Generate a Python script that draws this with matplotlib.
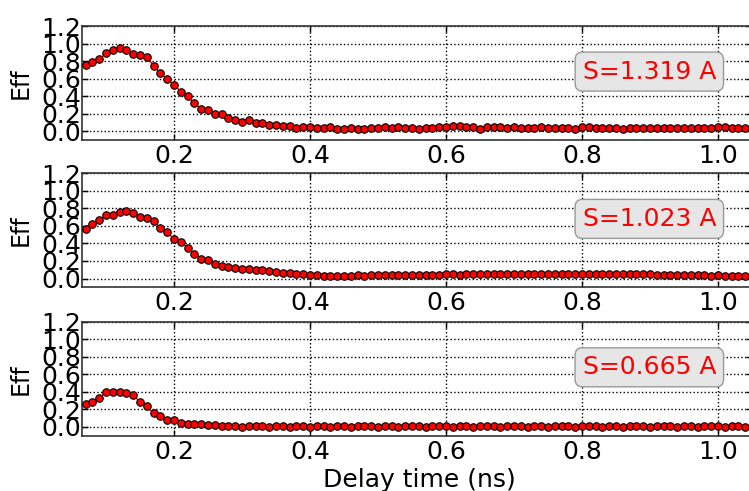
import numpy as np
import matplotlib
matplotlib.use("Agg")
import matplotlib.pyplot as plt

# Delay times (ns), sampled every 10 ps
delay = np.round(np.arange(0.07, 1.045, 0.01), 2)

eff_s1319 = [
    0.752, 0.789, 0.820, 0.888, 0.925, 0.948, 0.921, 0.876, 0.872, 0.846,
    0.748, 0.661, 0.597, 0.529, 0.453, 0.397, 0.317, 0.257, 0.246, 0.193,
    0.197, 0.151, 0.131, 0.106, 0.132,
    0.095, 0.095, 0.076, 0.068, 0.064, 0.064, 0.038, 0.049, 0.049, 0.038,
    0.041, 0.049, 0.030, 0.023, 0.038, 0.030, 0.030, 0.041, 0.041, 0.053,
    0.038, 0.045, 0.041, 0.038, 0.027, 0.038, 0.041, 0.049, 0.045, 0.057,
    0.057, 0.049, 0.049, 0.030,
    0.045, 0.050, 0.045, 0.040, 0.045, 0.040, 0.035, 0.040, 0.045, 0.040,
    0.040, 0.035, 0.040, 0.030, 0.045, 0.050, 0.040, 0.040, 0.040, 0.040,
    0.030, 0.040, 0.040, 0.040, 0.035, 0.040, 0.040, 0.040, 0.035, 0.040,
    0.040, 0.040, 0.035, 0.040, 0.045, 0.045, 0.040, 0.040, 0.040,
]

eff_s1023 = [
    0.568, 0.617, 0.667, 0.720, 0.720, 0.754, 0.769, 0.746, 0.705, 0.689,
    0.659, 0.572, 0.527, 0.451, 0.417, 0.352, 0.284, 0.227, 0.212, 0.170,
    0.140, 0.133, 0.125, 0.114, 0.114,
    0.100, 0.092, 0.083, 0.074, 0.068, 0.062, 0.055, 0.048, 0.042, 0.038,
    0.034, 0.032, 0.030, 0.033, 0.031, 0.035, 0.034, 0.036, 0.038, 0.035,
    0.040, 0.038, 0.041, 0.040, 0.043, 0.041, 0.045, 0.044, 0.046, 0.047,
    0.045, 0.048, 0.046, 0.049,
    0.048, 0.050, 0.047, 0.051, 0.049, 0.052, 0.050, 0.048, 0.051, 0.053,
    0.050, 0.052, 0.049, 0.051, 0.053, 0.050, 0.052, 0.049, 0.050, 0.048,
    0.050, 0.047, 0.048, 0.046, 0.047, 0.044, 0.045, 0.043, 0.040, 0.041,
    0.038, 0.036, 0.037, 0.034, 0.035, 0.033, 0.034, 0.032, 0.033,
]

eff_s0665 = [
    0.258, 0.284, 0.333, 0.394, 0.402, 0.402, 0.383, 0.360, 0.288, 0.235,
    0.155, 0.125, 0.076, 0.076, 0.049, 0.030, 0.034, 0.030, 0.023, 0.023,
    0.015, 0.008, 0.008, 0.004, 0.008,
    0.006, 0.005, 0.004, 0.006, 0.005, 0.004, 0.005, 0.006, 0.004, 0.005,
    0.005, 0.004, 0.006, 0.005, 0.004, 0.005, 0.005, 0.006, 0.004, 0.005,
    0.005, 0.004, 0.005, 0.006, 0.005, 0.004, 0.005, 0.005, 0.006, 0.004,
    0.005, 0.005, 0.004, 0.005,
    0.006, 0.005, 0.004, 0.005, 0.005, 0.006, 0.004, 0.005, 0.005, 0.004,
    0.005, 0.006, 0.005, 0.004, 0.005, 0.005, 0.006, 0.004, 0.005, 0.005,
    0.004, 0.005, 0.006, 0.005, 0.004, 0.005, 0.005, 0.006, 0.004, 0.005,
    0.005, 0.004, 0.005, 0.006, 0.005, 0.004, 0.005, 0.005, 0.004,
]

series = [eff_s1319, eff_s1023, eff_s0665]
labels = ["S=1.319 A", "S=1.023 A", "S=0.665 A"]
xticks = [0.2, 0.4, 0.6, 0.8, 1.0]
yticks = [0.0, 0.2, 0.4, 0.6, 0.8, 1.0, 1.2]

W, H = 749, 491
fig = plt.figure(figsize=(W / 100, H / 100), dpi=100)

left = 81.7 / W
width = 670.3 / W
height = 114 / H
bottoms_px = [140.0, 287.3, 435.7]

for vals, lab, bpx in zip(series, labels, bottoms_px):
    ax = fig.add_axes([left, 1 - bpx / H, width, height])
    ax.plot(delay, vals, "-", color="red", lw=1.0, marker="o", ms=5.4,
            mfc="red", mec="black", mew=0.8, zorder=3)
    ax.set_xlim(0.0643, 1.05)
    ax.set_ylim(-0.1, 1.2)
    ax.set_xticks(xticks)
    ax.set_yticks(yticks)
    ax.set_xticklabels([f"{t:.1f}" for t in xticks])
    ax.set_yticklabels([f"{t:.1f}" for t in yticks])
    ax.tick_params(direction="in", top=True, right=True, length=4,
                   width=1, labelsize=18, color="black")
    ax.tick_params(axis="x", pad=3)
    ax.tick_params(axis="y", pad=0.5)
    ax.grid(True, color="black", linestyle=":", linewidth=1.0)
    for sp in ax.spines.values():
        sp.set_color("#333333")
        sp.set_linewidth(1.2)
    ax.set_ylabel("Eff", fontsize=17)
    ax.yaxis.set_label_coords(-0.0727, 0.5)
    ax.text(0.899, 0.68, lab, color="red", fontsize=18, ha="center",
            va="center", zorder=5,
            bbox=dict(boxstyle="round,pad=0.3", fc="0.9", ec="0.6", lw=1.0))

fig.text(419 / W, 0.009, "Delay time (ns)", fontsize=18, ha="center",
         va="baseline")

fig.savefig("out.png", dpi=100)
